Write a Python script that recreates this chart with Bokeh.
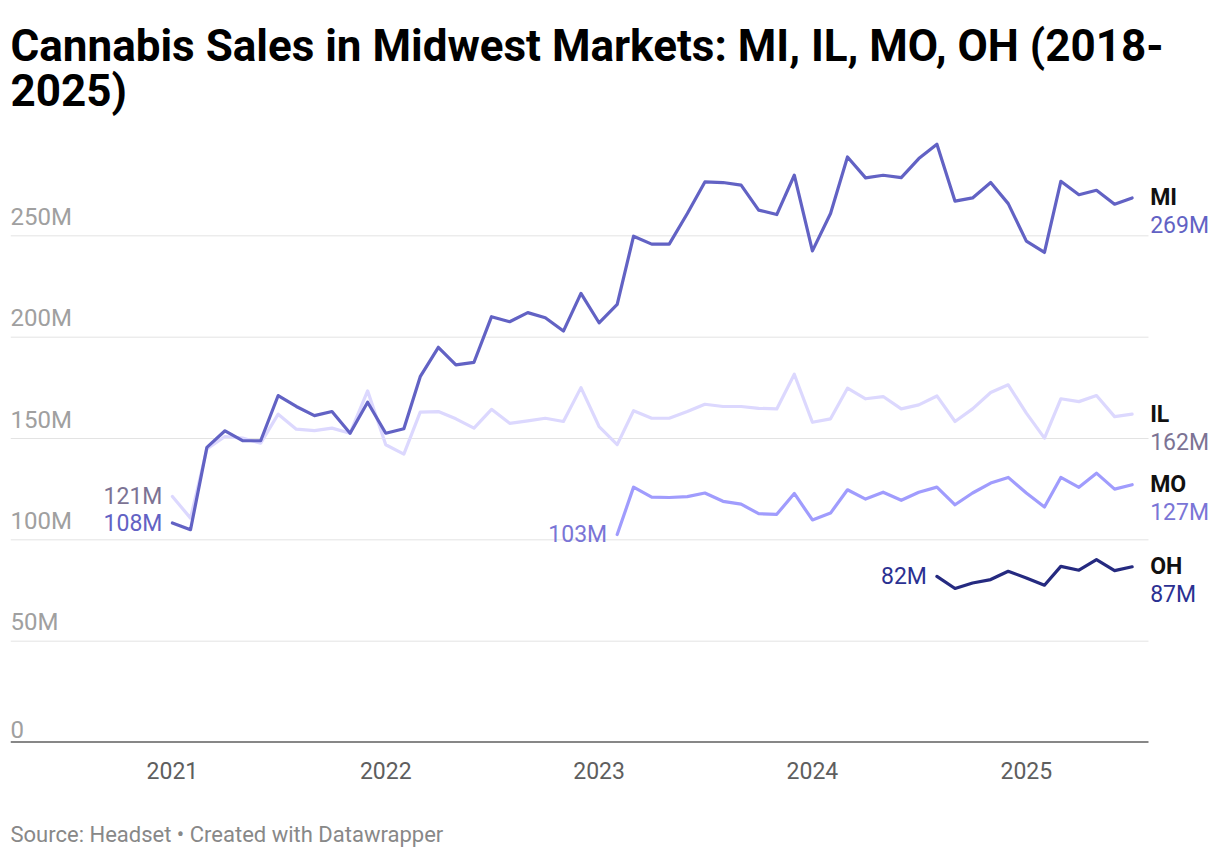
import pandas as pd
from bokeh.plotting import figure
from bokeh.models import ColumnDataSource, Range1d, FixedTicker, DatetimeTickFormatter, Title, LabelSet
from bokeh.core.properties import value
from bokeh.embed import file_html
from bokeh.resources import INLINE

# ---------------- data (monthly sales, millions USD) ----------------
months = pd.date_range("2021-01-01", "2025-07-01", freq="MS")

mi_sales = [108.3, 105.0, 145.6, 153.8, 148.9, 148.9, 171.2, 165.8, 161.3, 163.3,
            152.6, 167.9, 152.6, 154.8, 180.5, 195.0, 186.3, 187.6, 210.1, 207.6,
            212.1, 209.6, 203.0, 221.6, 207.1, 216.2, 249.8, 245.9, 245.9, 261.0,
            276.6, 276.3, 275.0, 262.7, 260.5, 279.9, 242.6, 261.0, 288.9, 278.6,
            279.9, 278.7, 288.1, 295.2, 267.1, 268.7, 276.3, 265.9, 247.4, 241.8,
            276.9, 270.3, 272.5, 265.6, 268.7]
il_sales = [121.4, 110.7, 144.9, 151.0, 150.2, 147.7, 162.0, 154.6, 153.9, 155.1,
            152.6, 173.5, 146.9, 142.3, 163.0, 163.3, 159.7, 155.1, 164.4, 157.5,
            158.7, 160.0, 158.4, 175.1, 155.9, 147.0, 163.7, 160.0, 160.0, 163.3,
            166.9, 165.8, 165.8, 164.9, 164.6, 181.7, 158.0, 159.7, 174.8, 169.6,
            170.7, 164.6, 166.6, 171.0, 158.4, 164.6, 172.7, 176.5, 162.5, 150.2,
            169.6, 168.2, 171.2, 160.8, 162.0]
mo_start = "2023-02-01"
mo_sales = [102.6, 126.0, 121.1, 120.9, 121.3, 123.1, 119.0, 117.6, 112.9, 112.6,
            122.9, 109.8, 113.2, 124.7, 120.1, 123.5, 119.5, 123.5, 126.0, 117.3,
            123.1, 128.0, 130.8, 123.1, 116.2, 130.8, 125.9, 132.9, 125.0, 127.2]
oh_start = "2024-08-01"
oh_sales = [82.0, 76.0, 78.7, 80.4, 84.5, 81.2, 77.6, 86.9, 85.0, 90.2, 84.8, 86.7]

series_names = ["MI", "IL", "MO", "OH"]
line_colors = ["#6262c4", "#dcd8fe", "#a09cfd", "#252a80"]
label_colors = ["#6262c4", "#7c7394", "#7a75d6", "#2b3192"]

y_ticks = [0, 50, 100, 150, 200, 250]
y_tick_labels = ["0", "50M", "100M", "150M", "200M", "250M"]
x_tick_years = [2021, 2022, 2023, 2024, 2025]

title_text = "Cannabis Sales in Midwest Markets: MI, IL, MO, OH (2018-\n2025)"
source_text = "Source: Headset \u2022 Created with Datawrapper"

FONT = "Roboto"

# ---------------- layout ----------------
W, H = 1210, 858
LEFT, TOP, BOTTOM = 10, 132, 116
AXIS_W = 1138                     # visible width of the chart body (gridlines / baseline)
FRAME_W = W - LEFT

x_start = pd.Timestamp("2020-03-30")
x_axis_end = pd.Timestamp("2025-07-29")
x_frame_end = x_start + (x_axis_end - x_start) * (FRAME_W / AXIS_W)

p = figure(width=W, height=H, output_backend="svg", toolbar_location=None,
           x_axis_type="datetime", y_axis_location=None,
           x_range=Range1d(x_start, x_frame_end), y_range=Range1d(0, 300),
           min_border_left=LEFT, min_border_right=0, min_border_top=TOP,
           min_border_bottom=BOTTOM, title=None)
p.outline_line_color = None
p.background_fill_color = "white"
p.border_fill_color = "white"
p.xgrid.grid_line_color = None
p.ygrid.grid_line_color = None

# gridlines (stop where the chart body ends, labels sit to the right)
p.segment(x0=[x_start] * (len(y_ticks) - 1), x1=[x_axis_end] * (len(y_ticks) - 1),
          y0=y_ticks[1:], y1=y_ticks[1:], line_color="#e3e3e3", line_width=1)

# x axis (labels); baseline drawn as a segment at 0
xa = p.xaxis[0]
xa.ticker = FixedTicker(ticks=[pd.Timestamp(f"{y}-01-01").value // 10**6 for y in x_tick_years])
xa.formatter = DatetimeTickFormatter(years="%Y", months="%Y", days="%Y", hours="%Y",
                                     minutes="%Y", seconds="%Y", milliseconds="%Y")
xa.axis_line_color = None
xa.major_tick_line_color = None
xa.minor_tick_line_color = None
xa.major_label_text_font = FONT
xa.major_label_text_font_size = "23px"
xa.major_label_text_color = "#5e5e5e"
xa.major_label_standoff = 13

p.segment(x0=[x_start], x1=[x_axis_end], y0=[y_ticks[0]], y1=[y_ticks[0]],
          line_color="#111111", line_width=2)

# y tick labels inside plot area (Datawrapper style)
ytl = ColumnDataSource(dict(x=[x_start] * len(y_ticks), y=y_ticks, text=y_tick_labels))
p.add_layout(LabelSet(x="x", y="y", text="text", source=ytl, x_offset=0, y_offset=5,
                      text_font=value(FONT), text_font_size="24px", text_color="#a0a0a0",
                      text_align="left", text_baseline="bottom"))

# lines
all_series = [
    (months, mi_sales),
    (months, il_sales),
    (pd.date_range(mo_start, periods=len(mo_sales), freq="MS"), mo_sales),
    (pd.date_range(oh_start, periods=len(oh_sales), freq="MS"), oh_sales),
]
draw_order = [1, 2, 3, 0]
for k in draw_order:
    xs, ys = all_series[k]
    src = ColumnDataSource(dict(x=list(xs), y=ys))
    p.line("x", "y", source=src, line_color=line_colors[k], line_width=3.2,
           line_join="round", line_cap="round")

# start / end labels
for k, (xs, ys) in enumerate(all_series):
    xs = list(xs)
    s_src = ColumnDataSource(dict(x=[xs[0]], y=[ys[0]], text=[f"{round(ys[0])}M"]))
    p.add_layout(LabelSet(x="x", y="y", text="text", source=s_src, x_offset=-10, y_offset=0,
                          text_font=value(FONT), text_font_size="23px",
                          text_color=label_colors[k], text_align="right",
                          text_baseline="middle"))
    n_src = ColumnDataSource(dict(x=[xs[-1]], y=[ys[-1]], text=[series_names[k]]))
    p.add_layout(LabelSet(x="x", y="y", text="text", source=n_src, x_offset=18, y_offset=0,
                          text_font=value(FONT), text_font_size="23px", text_font_style="bold",
                          text_color="#111111", text_align="left", text_baseline="middle"))
    v_src = ColumnDataSource(dict(x=[xs[-1]], y=[ys[-1]], text=[f"{round(ys[-1])}M"]))
    p.add_layout(LabelSet(x="x", y="y", text="text", source=v_src, x_offset=18, y_offset=-28,
                          text_font=value(FONT), text_font_size="23px",
                          text_color=label_colors[k], text_align="left",
                          text_baseline="middle"))

# titles
p.add_layout(Title(text=title_text, text_font=FONT, text_font_style="bold",
                   text_font_size="44px", text_line_height=0.86, text_color="#000000",
                   align="left", standoff=35), "above")
# blank spacer between the year labels and the source line
p.add_layout(Title(text=" ", text_font=FONT, text_font_size="20px", standoff=14), "below")
p.add_layout(Title(text=source_text, text_font=FONT, text_font_style="normal",
                   text_font_size="22px", text_color="#888888", align="left",
                   vertical_align="top", standoff=0), "below")

open("out.html", "w").write(file_html(p, INLINE))
